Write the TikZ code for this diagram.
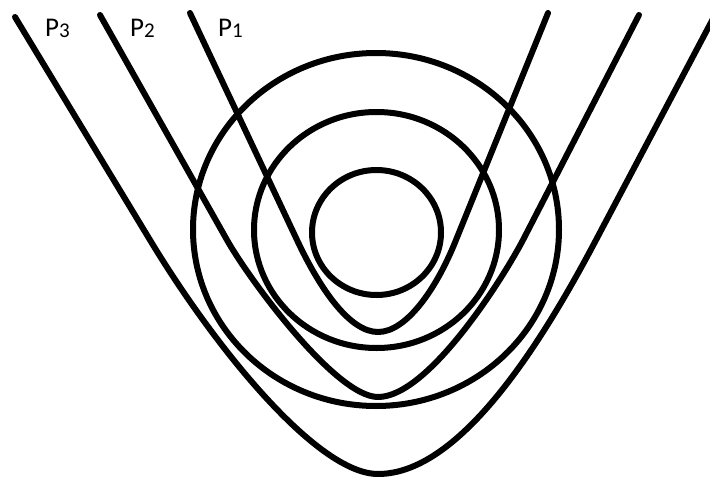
\documentclass[tikz,border=0pt]{standalone}
\usepackage{fontspec}
\setmainfont{Carlito}
\newcommand{\plabel}[1]{P\raisebox{-1pt}{\fontsize{21}{21}\selectfont #1}}

\begin{document}
\begin{tikzpicture}[
    x=1pt, y=-1pt,
    font=\fontsize{27}{27}\selectfont,
    curve/.style={line width=6pt, line cap=round, line join=round},
    lbl/.style={anchor=base west, inner sep=0pt}
]
    \clip (0,0) rectangle (710,479);

    % Circles
    \draw[curve] (376.5,232.5) ellipse [x radius=64.5pt, y radius=62.5pt];
    \draw[curve] (376.5,230) ellipse [x radius=122.5pt, y radius=118pt];
    \draw[curve] (376,229.5) ellipse [x radius=183pt, y radius=176.5pt];

    % Paths
    \draw[curve] (190,13) -- (297,240)
        .. controls +(23.5,50) and +(-28,0) .. (378,332)
        .. controls +(28,0) and +(-20,50) .. (456,240) -- (548,13);
    \draw[curve] (100,15) -- (227,240)
        .. controls +(22.6,40) and +(-42,0) .. (378,397)
        .. controls +(50,0) and +(-21,40) .. (523,240) -- (639,15);
    \draw[curve] (15,17) -- (150,240)
        .. controls +(66.5,110) and +(-60,0) .. (378,474)
        .. controls +(80,0) and +(-58,110) .. (596,240) -- (716,13);

    % Labels
    \node[lbl] (p3) at (45,36) {\plabel{3}};
    \node[lbl] (p2) at (130,36) {\plabel{2}};
    \node[lbl] (p1) at (218,36) {\plabel{1}};
\end{tikzpicture}
\end{document}
